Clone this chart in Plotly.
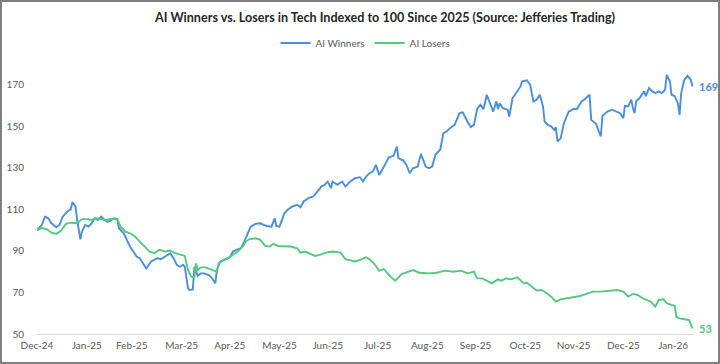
import pandas as pd
import plotly.graph_objects as go

# ---- data ----
start_date = "2024-12-31"

winners_days = [0, 3, 5, 7, 9, 12, 14, 16, 19, 21, 22, 24, 25, 27, 28, 30, 32, 34, 36, 38,
                40, 42, 44, 46, 48, 50, 51, 54, 56, 58, 60, 62, 64, 66, 68, 71, 73, 75, 77, 80,
                82, 83, 85, 87, 89, 91, 92, 94, 95, 97, 98, 100, 102, 104, 107, 109, 111, 112, 114, 117,
                120, 122, 124, 127, 129, 131, 133, 136, 139, 141, 143, 146, 148, 149, 151, 154, 156, 159, 162, 164,
                166, 169, 172, 174, 177, 179, 181, 183, 184, 187, 190, 192, 195, 198, 201, 203, 205, 207, 209, 211,
                213, 216, 219, 222, 224, 225, 228, 230, 232, 234, 237, 239, 242, 244, 246, 248, 251, 253, 255, 257,
                260, 263, 265, 268, 270, 272, 274, 276, 278, 280, 281, 284, 286, 287, 288, 290, 293, 294, 296, 299,
                301, 302, 305, 307, 308, 309, 311, 313, 315, 316, 318, 320, 322, 323, 324, 326, 328, 331, 334, 336,
                339, 341, 344, 345, 348, 349, 351, 352, 355, 358, 361, 363, 365, 366, 368, 370, 371, 372, 373, 375,
                378, 379, 381, 383, 385, 387, 389, 391, 392, 394, 395, 397, 399, 400, 401, 403, 405, 407, 408]
winners = [100, 102.5, 106.5, 105.7, 103.3, 101.4, 102.5, 106.5, 109, 110, 113.5, 111.4, 104.9, 95.6, 99.3, 102.5, 101.7, 103.3, 105.7, 104.9,
           106.5, 104.9, 104, 104.9, 105.7, 105.3, 100.9, 98.5, 95.3, 92, 89.7, 87.3, 86.5, 84, 81.5, 84.9, 85.7, 86.5, 86, 87.3,
           88.1, 88.9, 86.5, 83.3, 82.4, 83.3, 82.4, 72, 71.2, 71.5, 82.4, 78, 79.2, 79.2, 78.4, 76.8, 74.4, 80.8, 84.9, 85.7,
           86.9, 89.7, 90.5, 91.3, 94.5, 98.5, 101.7, 103, 103.3, 102.5, 102, 101.7, 105.7, 102, 101.7, 108.1, 109.8, 111.4, 112.2, 111,
           113.8, 115.4, 116.2, 118.1, 121, 121.8, 123.4, 120.2, 123.4, 121.8, 123.4, 121, 123.4, 125, 125.5, 123.4, 125.9, 127.4, 128.2, 131.4,
           126.6, 130.6, 135.1, 135.8, 140.2, 134.7, 133.5, 131.4, 127.4, 129.8, 130.6, 136.7, 130.6, 129.8, 130.6, 136.3, 138.7, 146.7, 147.5, 149.1,
           150.7, 156.4, 156.7, 152.3, 149.6, 150.7, 158.3, 160.4, 158.3, 165.2, 163, 157.1, 162, 158.3, 161.1, 158.7, 158, 154.7, 163.5, 166.8,
           169.2, 171.7, 172.2, 170, 165.2, 162, 162.8, 165.2, 159.6, 152.3, 150.7, 150, 148.3, 149.6, 142.7, 144.2, 151.5, 157.1, 158.3, 158.3,
           162, 163, 165.2, 153.1, 151.2, 149.1, 145.1, 155, 157.1, 158, 157.1, 156.3, 153.9, 159.9, 159.6, 162.8, 158.7, 156.3, 162, 163.5,
           166.8, 164.5, 168.4, 166.8, 166, 166.8, 166, 167.6, 174.8, 171.7, 165.2, 164.5, 161.1, 155.5, 166, 172.4, 174.3, 172.4, 169.2]

losers_days = [0, 3, 6, 9, 12, 15, 18, 21, 25, 28, 31, 34, 37, 40, 43, 46, 50, 52, 55, 58,
               61, 64, 67, 70, 73, 76, 80, 83, 86, 89, 92, 94, 96, 98, 99, 100, 102, 105, 109, 112,
               113, 116, 119, 122, 125, 128, 130, 132, 136, 139, 142, 145, 147, 150, 154, 158, 162, 164, 167, 170,
               173, 176, 180, 184, 189, 192, 195, 198, 201, 205, 207, 210, 213, 216, 220, 223, 227, 231, 234, 238,
               244, 249, 254, 259, 264, 268, 272, 274, 277, 280, 283, 287, 289, 292, 295, 299, 301, 303, 305, 308,
               311, 314, 317, 320, 323, 326, 330, 334, 338, 342, 346, 351, 356, 361, 365, 368, 371, 374, 377, 382,
               385, 387, 390, 392, 395, 397, 398, 400, 403, 406, 408]
losers = [100, 101, 100.5, 98.8, 98.2, 99.8, 103, 103.6, 103.3, 105.3, 105.3, 104.9, 105.7, 105.3, 104.9, 105.4, 105.3, 101.7, 99.3, 98.5,
          96.9, 94.5, 92.3, 89.7, 88.9, 90.5, 89.7, 90.2, 88.9, 88.1, 87.6, 80.8, 77.6, 77.3, 84, 80.8, 82.1, 82.1, 80.8, 80,
          84, 85.7, 86.5, 88.1, 89.7, 92.1, 94.5, 95.6, 96.1, 95.3, 92.4, 92.1, 93.4, 92.4, 92.4, 92.1, 91.3, 89.2, 89.7, 88.6,
          87.6, 88.1, 89.2, 89.7, 89.2, 86, 85.3, 84.9, 85.7, 86.9, 86, 83.8, 80.5, 81.2, 77.6, 75.7, 78.9, 80, 80.8, 79.5,
          79.2, 79.5, 80.5, 80, 80.5, 79.2, 80, 76.8, 76.8, 75.7, 74.4, 76.3, 75.7, 76.8, 76.3, 77.3, 76, 74.4, 74.7, 72.8,
          70.9, 71.2, 69.9, 68, 65.6, 66.7, 67.2, 67.7, 68.3, 69.3, 70.4, 70.4, 70.9, 71.2, 70.4, 68, 69.3, 68.8, 67.2, 65.6,
          63.2, 66.4, 66.7, 64.8, 64, 63.5, 58.3, 57.5, 57.1, 56.7, 52.7]

tick_dates = ["2024-12-31", "2025-01-31", "2025-02-28", "2025-03-31", "2025-04-30", "2025-05-31",
              "2025-06-30", "2025-07-31", "2025-08-31", "2025-09-30", "2025-10-31", "2025-11-30",
              "2025-12-31", "2026-01-31"]
tick_labels = ["Dec-24", "Jan-25", "Feb-25", "Mar-25", "Apr-25", "May-25", "Jun-25", "Jul-25",
               "Aug-25", "Sep-25", "Oct-25", "Nov-25", "Dec-25", "Jan-26"]
y_ticks = [50, 70, 90, 110, 130, 150, 170]

series_names = ["AI Winners", "AI Losers"]
end_labels = ["169", "53"]

# ---- build ----
t0 = pd.Timestamp(start_date)
wx = t0 + pd.to_timedelta(winners_days, unit="D")
lx = t0 + pd.to_timedelta(losers_days, unit="D")

BLUE = "#4A8FDB"
GREEN = "#52C97C"
FONT = "Lato"

fig = go.Figure()
fig.add_trace(go.Scatter(x=wx, y=winners, mode="lines", name=series_names[0],
                         line=dict(color=BLUE, width=1.9)))
fig.add_trace(go.Scatter(x=lx, y=losers, mode="lines", name=series_names[1],
                         line=dict(color=GREEN, width=1.9)))

fig.add_annotation(x=wx[-1], y=winners[-1], text="<b>%s</b>" % end_labels[0], showarrow=False,
                   xanchor="left", xshift=5, font=dict(family=FONT, size=11, color=BLUE))
fig.add_annotation(x=lx[-1], y=losers[-1], text="<b>%s</b>" % end_labels[1], showarrow=False,
                   xanchor="left", xshift=5, font=dict(family=FONT, size=11, color=GREEN))

ml, mr, mt, mb = 37, 26, 64, 30
pw = 720 - ml - mr
ph = 364 - mt - mb

fig.update_layout(
    width=720, height=364,
    margin=dict(l=ml, r=mr, t=mt, b=mb),
    paper_bgcolor="white", plot_bgcolor="white",
    font=dict(family=FONT, color="#595959", size=10),
    title=dict(text="<b>AI Winners vs. Losers in Tech Indexed to 100 Since 2025 (Source: Jefferies Trading)</b>",
               x=385 / 720, xanchor="center", y=1 - 18 / 364, yanchor="middle", yref="container",
               font=dict(family=FONT, size=12.6, color="#262626")),
    legend=dict(orientation="h", x=0.5, xanchor="center", y=1 + 21 / ph, yanchor="middle",
                font=dict(family=FONT, size=10, color="#595959"), itemwidth=30,
                bgcolor="rgba(0,0,0,0)"),
    showlegend=True,
    xaxis=dict(type="date", range=[t0, t0 + pd.Timedelta(days=409)],
               tickmode="array", tickvals=tick_dates, ticktext=tick_labels,
               showgrid=False, showline=True, linecolor="#D9D9D9", linewidth=1,
               ticks="", zeroline=False, ticklabelstandoff=2, automargin=False,
               tickfont=dict(size=10, color="#595959")),
    yaxis=dict(range=[50, 180], tickmode="array", tickvals=y_ticks,
               showgrid=False, showline=False, zeroline=False, ticks="",
               ticklabelstandoff=12, automargin=False,
               tickfont=dict(size=10, color="#595959")),
)

fig.add_shape(type="rect", xref="paper", yref="paper",
              x0=-(ml - 1) / pw, x1=1 + (mr - 1) / pw, y0=-(mb - 1) / ph, y1=1 + (mt - 1) / ph,
              line=dict(color="#7F7F7F", width=2), fillcolor="rgba(0,0,0,0)", layer="above")

fig.write_html("out.html")
